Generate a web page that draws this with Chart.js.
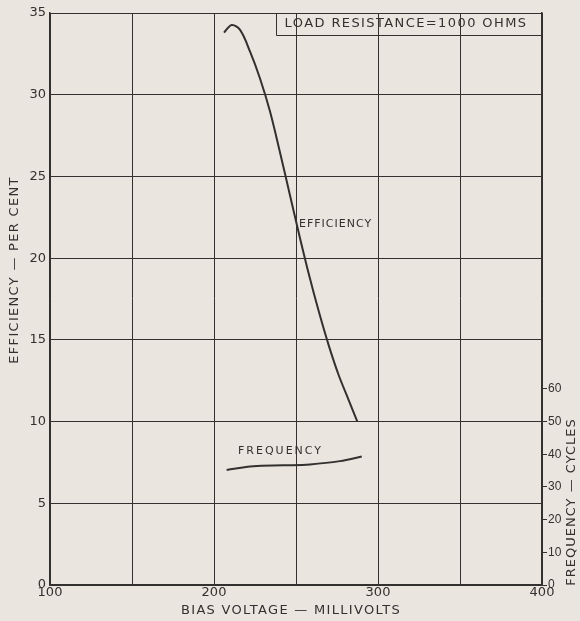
<!DOCTYPE html>
<html>
<head>
<meta charset="utf-8">
<script src="https://cdn.jsdelivr.net/npm/chart.js@4.4.1/dist/chart.umd.min.js"></script>
<style>
  html, body { margin: 0; padding: 0; background: #ebe5df; }
  #wrap { width: 580px; height: 621px; }
</style>
</head>
<body>
<div id="wrap"><canvas id="chart" width="580" height="621"></canvas></div>
<script>
// bias voltage (mV) vs efficiency (per cent)
const effBias = [206.1, 210.8, 216, 222, 228, 234, 240, 246, 252, 258, 264, 270, 276, 282, 287.4];
const effValues = [33.8, 34.27, 33.95, 32.63, 31.01, 29.03, 26.57, 23.99, 21.41, 18.95, 16.7, 14.65, 12.85, 11.35, 10.0];

// bias voltage (mV) vs frequency (cycles)
const freqBias = [207.7, 224.0, 242.3, 258.5, 276.8, 290.1];
const freqValues = [35.2, 36.3, 36.6, 36.9, 37.9, 39.3];

const xTicks = [100, 200, 300, 400];
const freqTicks = [0, 10, 20, 30, 40, 50, 60];

const ink = "#333030";
const font = "'DejaVu Sans', sans-serif";

function toPoints(xs, ys) {
  return xs.map((x, i) => ({ x: x, y: ys[i] }));
}

// texte libre : titres d'axes, encadre, etiquettes des courbes
const textPlugin = {
  id: "texts",
  afterDraw(chart) {
    const c = chart.ctx;
    const a = chart.chartArea;
    c.save();
    c.fillStyle = ink;
    c.strokeStyle = ink;
    c.textBaseline = "middle";

    // encadre en haut a droite
    c.lineWidth = 1;
    c.beginPath();
    c.moveTo(276.5, a.top);
    c.lineTo(276.5, 35.5);
    c.lineTo(a.right, 35.5);
    c.stroke();
    c.letterSpacing = "1.4px";
    c.font = "13px " + font;
    c.textAlign = "center";
    c.fillText("LOAD RESISTANCE=1000 OHMS", 406, 24);

    // etiquettes des courbes
    c.textAlign = "left";
    c.font = "11px " + font;
    c.letterSpacing = "1px";
    c.fillText("EFFICIENCY", 299, 224);
    c.letterSpacing = "2px";
    c.fillText("FREQUENCY", 238, 451);

    // titre axe x
    c.font = "13px " + font;
    c.letterSpacing = "1.3px";
    c.textAlign = "center";
    c.fillText("BIAS VOLTAGE \u2014 MILLIVOLTS", 291, 611);

    // titre axe gauche
    c.save();
    c.translate(15, 270);
    c.rotate(-Math.PI / 2);
    c.fillText("EFFICIENCY \u2014 PER CENT", 0, 0);
    c.restore();

    // titre axe droit
    c.save();
    c.letterSpacing = "1px";
    c.translate(572, 502);
    c.rotate(-Math.PI / 2);
    c.fillText("FREQUENCY \u2014 CYCLES", 0, 0);
    c.restore();

    c.restore();
  },
};

const bgPlugin = {
  id: "bg",
  beforeDraw(chart) {
    const c = chart.ctx;
    c.save();
    c.fillStyle = "#ebe5df";
    c.fillRect(0, 0, chart.width, chart.height);
    c.restore();
  },
};

const lineStyle = {
  showLine: true,
  borderColor: ink,
  borderWidth: 2,
  pointRadius: 0,
  fill: false,
  tension: 0.35,
};

new Chart(document.getElementById("chart"), {
  type: "scatter",
  data: {
    datasets: [
      Object.assign({ label: "Efficiency", data: toPoints(effBias, effValues), yAxisID: "y" }, lineStyle),
      Object.assign({ label: "Frequency", data: toPoints(freqBias, freqValues), yAxisID: "y2" }, lineStyle),
    ],
  },
  options: {
    responsive: false,
    devicePixelRatio: 1,
    animation: false,
    layout: { padding: { top: 13, left: 0, right: 0, bottom: 0 } },
    plugins: { legend: { display: false }, tooltip: { enabled: false } },
    scales: {
      x: {
        type: "linear",
        min: 100,
        max: 400,
        ticks: {
          stepSize: 50,
          color: ink,
          font: { family: font, size: 13 },
          padding: 0,
          maxRotation: 0,
          callback: (v) => (xTicks.includes(v) ? v : ""),
        },
        grid: { color: ink, lineWidth: 1, drawTicks: false },
        border: { color: ink, width: 1.5 },
        afterFit: (s) => { s.height = 36; },
      },
      y: {
        position: "left",
        min: 0,
        max: 35,
        ticks: {
          stepSize: 5,
          color: ink,
          font: { family: font, size: 13 },
          padding: 4,
        },
        grid: { color: ink, lineWidth: 1, drawTicks: false },
        border: { color: ink, width: 1.5 },
        afterFit: (s) => { s.width = 50; },
      },
      y2: {
        position: "right",
        min: 0,
        max: 175,
        afterBuildTicks: (s) => { s.ticks = freqTicks.map((v) => ({ value: v })); },
        ticks: {
          color: ink,
          font: { family: "'Liberation Sans', sans-serif", size: 12 },
          padding: 1,
        },
        grid: { drawOnChartArea: false, color: ink, tickLength: 5, tickWidth: 1 },
        border: { color: ink, width: 1.5 },
        afterFit: (s) => { s.width = 38; },
      },
    },
  },
  plugins: [bgPlugin, textPlugin],
});
</script>
</body>
</html>
